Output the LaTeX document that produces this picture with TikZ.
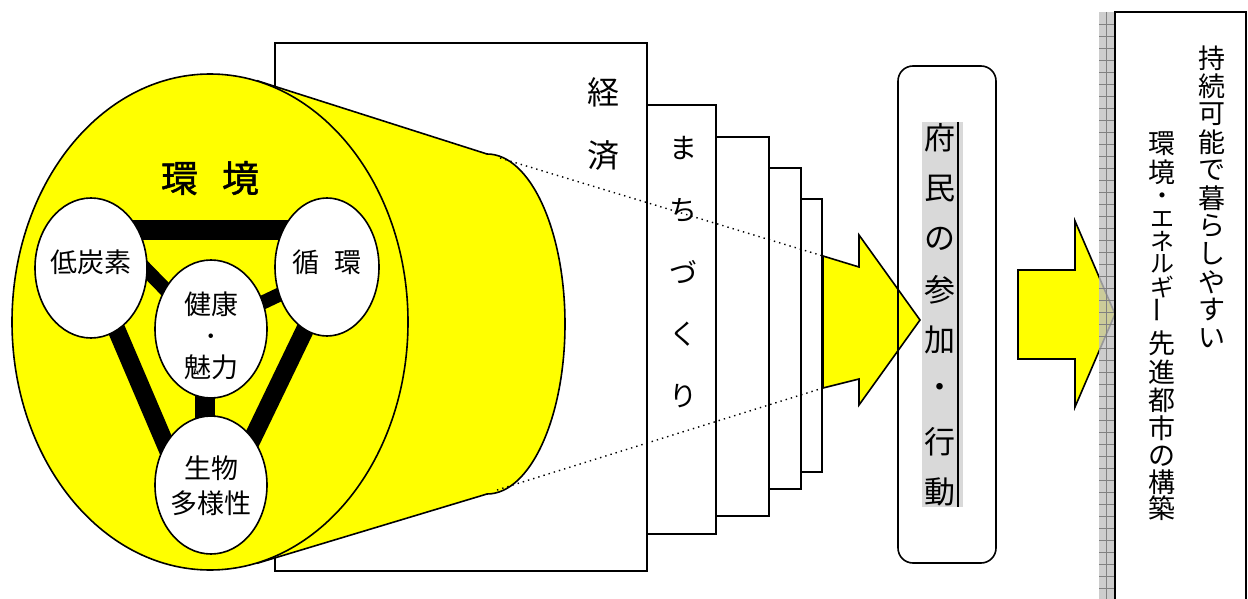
\documentclass[tikz,border=0pt]{standalone}
\usepackage{fontspec}
\newfontfamily\jp{Noto Sans CJK JP}
\newfontfamily\jpheavy[FakeBold = 1.2]{Noto Sans CJK JP}
\usepackage{tikz}
\usetikzlibrary{arrows, shapes}
\definecolor{lemon}{RGB}{255,255,0}
\definecolor{shade}{RGB}{217,217,217}
\definecolor{wall}{RGB}{192,192,192}

\begin{document}
\begin{tikzpicture}[x=0.5pt, y=-0.5pt]
			\tikzstyle{every node} = [inner sep = 0pt, font = \jp\fontsize{13.5}{16}\selectfont]
			\tikzstyle{bubble} = [ellipse, draw, fill = white, line width = 0.8pt]
			\tikzstyle{panel} = [rectangle, draw, fill = white, line width = 0.8pt]
			\tikzstyle{flow} = [draw, fill = lemon, line width = 0.8pt, line join = miter]
			\tikzstyle{bar} = [draw, line width = 10pt]
			\tikzstyle{spoke} = [draw, line width = 7pt]
			\tikzstyle{hint} = [draw, dotted, line width = 0.7pt]
			\tikzstyle{kana} = [font = \jp\fontsize{12}{14}\selectfont]
			\useasboundingbox (0,0) rectangle (1248,599);

				\node[panel, minimum width = 186pt, minimum height = 264pt] (keizai) at (461,307) {};
				\node[font = \jp\fontsize{16}{18}\selectfont] (kei) at (603,92) {経};
				\node[font = \jp\fontsize{16}{18}\selectfont] (zai) at (603,156) {済};

				\path[flow] (258,81) -- (487,154)
					arc[start angle = 90, end angle = -90, x radius = 39pt, y radius = 85pt] --
					(258,563) -- cycle;
				\node[ellipse, draw, fill = lemon, line width = 0.8pt,
					minimum width = 198pt, minimum height = 248pt] (kankyo) at (210,322) {};
				\node[font = \jpheavy\fontsize{18.5}{22}\selectfont] (kankyot) at (210,178) {環\hspace{0.65em}境};

				\coordinate (tl) at (74,230);
				\coordinate (tr) at (353,230);
				\coordinate (bt) at (205,537);
				\coordinate (hub) at (205,330);
				\path[bar] (tl) -- (tr);
				\path[bar, line width = 9pt] (tl) -- (bt);
				\path[bar, line width = 9pt] (tr) -- (bt);
				\path[spoke] (hub) -- (130,253);
				\path[spoke] (hub) -- (310,280);
				\path[bar] (hub) -- (205,485);

				\node[bubble, minimum width = 56pt, minimum height = 70pt] (teitanso) at (91,268) {};
				\node[bubble, minimum width = 52pt, minimum height = 69pt] (junkan) at (327,267) {};
				\node[bubble, minimum width = 56pt, minimum height = 69pt] (kenko) at (211,329) {};
				\node[bubble, minimum width = 56pt, minimum height = 69pt] (seibutsu) at (211,485) {};
				\node (teitansot) at (91,262) {低炭素};
				\node (junkant) at (327,262) {循\hspace{0.55em}環};
				\node[align = center, font = \jp\fontsize{13.5}{15.75}\selectfont] (kenkot) at (211,336) {健康\\･\\魅力};
				\node[align = center, font = \jp\fontsize{13.5}{17.5}\selectfont] (seibutsut) at (211,486) {生物\\多様性};

				\node[panel, minimum width = 34.5pt, minimum height = 214.5pt] (machi) at (681.5,319.5) {};
				\node[panel, minimum width = 26.5pt, minimum height = 189.5pt] (layer2) at (742.5,326.5) {};
				\node[panel, minimum width = 16pt, minimum height = 160.5pt] (layer3) at (785,328.5) {};
				\node[panel, minimum width = 10.5pt, minimum height = 136.5pt] (layer4) at (811.5,335.5) {};
				\foreach \c [count = \i] in {ま,ち,づ,く,り}
					\node[font = \jp\fontsize{14}{16}\selectfont] (machi\i) at (683,86+62*\i) {\c};

				\coordinate (shafttop) at (823,256);
				\coordinate (shaftbot) at (823,388);
				\path[hint] (500,158) -- (shafttop);
				\path[hint] (497,490) -- (shaftbot);
				\path[flow] (shafttop) -- (859,267) -- (859,235) -- (920,320) --
					(859,405) -- (859,379) -- (shaftbot) -- cycle;

				\node[draw, rounded corners = 7.5pt, line width = 0.8pt,
					minimum width = 49pt, minimum height = 248.5pt] (fumin) at (947,314.5) {};
				\path[fill = shade] (922,122) rectangle (963,507);
				\path[draw, line width = 0.8pt] (958,122) -- (958,507);
				\foreach \c [count = \i from 0] in {府,民,の,参,加,・,行,動}
					\node[font = \jp\fontsize{15.5}{18}\selectfont] (sanka\i) at (940,138+50.6*\i) {\c};

				\path[flow] (1018,270) -- (1075,270) -- (1075,221) -- (1115,314) --
					(1075,407) -- (1075,359) -- (1018,359) -- cycle;
				\path[fill = wall, fill opacity = 0.8] (1099,12) rectangle (1114,600);
				\foreach \y in {24,36,...,596}
					\path[draw, gray, line width = 0.3pt] (1099,\y) -- (1114,\y);
				\path[draw, gray, line width = 0.3pt] (1106,12) -- (1106,600);
				\path[draw, line width = 1pt] (1115,600) -- (1115,12) -- (1246,12) -- (1246,600);

				\foreach \c [count = \i from 0] in {持,続,可,能,で,暮,ら,し,や,す,い}
					\node (goal\i) at (1212,58+28*\i) {\c};
				\foreach \c/\y in {環/144,境/172,先/343,進/372,都/400,市/428,の/456,構/482,築/508}
					\node (city\y) at (1162,\y) {\c};
				\foreach \c/\y in {・/199,エ/219,ネ/241,ル/264,ギ/287}
					\node[kana] (city\y) at (1162,\y) {\c};
				\node[rotate = 90] (citybar) at (1162,310) {ー};
\end{tikzpicture}
\end{document}
